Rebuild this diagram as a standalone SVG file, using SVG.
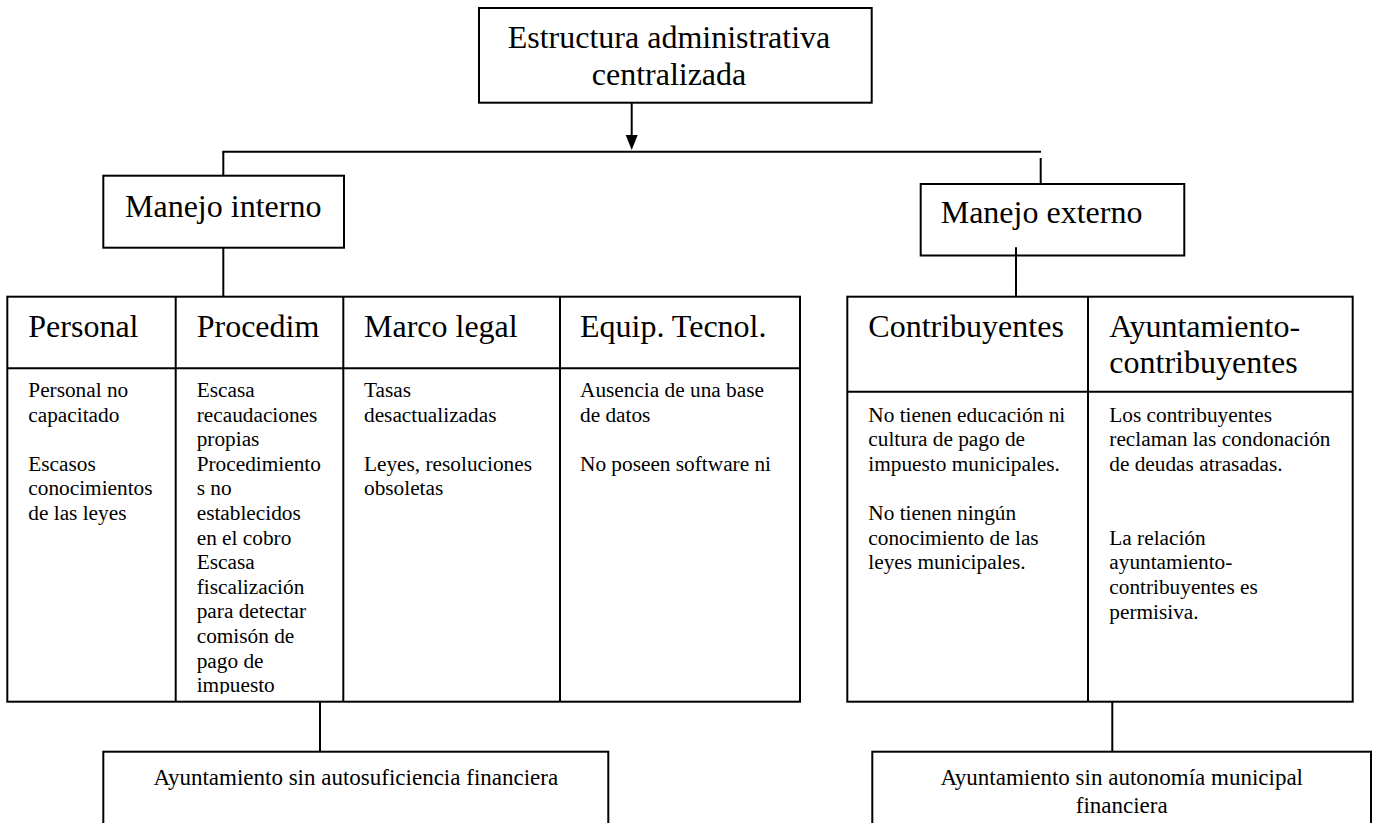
<svg xmlns="http://www.w3.org/2000/svg" width="1376" height="823" viewBox="0 0 1376 823">
<style>
  .box { fill: #fff; stroke: #000; stroke-width: 2; }
  .ln { fill: none; stroke: #000; stroke-width: 2; }
  text { font-family: "Liberation Serif", "Times New Roman", serif; fill: #000; }
  .h { font-size: 32px; }
  .b { font-size: 21.3px; }
  .f { font-size: 23px; }
</style>
<defs>
  <marker id="arr" viewBox="0 0 12 15" refX="6" refY="15" markerWidth="12" markerHeight="15" markerUnits="userSpaceOnUse" orient="0">
    <path d="M0,0 L12,0 L6,15 z" fill="#000"/>
  </marker>
  <clipPath id="clipProc"><rect x="176" y="369" width="167" height="325"/></clipPath>
</defs>
<rect width="1376" height="823" fill="#fff"/>

<g id="connectors">
  <line class="ln" x1="631.7" y1="102.7" x2="631.7" y2="135"/>
  <path d="M625.7,135 L637.7,135 L631.7,150 z" fill="#000"/>
  <line class="ln" x1="222.3" y1="151.7" x2="1041" y2="151.7"/>
  <line class="ln" x1="223.3" y1="151.7" x2="223.3" y2="175.7"/>
  <line class="ln" x1="1040.7" y1="158" x2="1040.7" y2="184"/>
  <line class="ln" x1="223.3" y1="247.7" x2="223.3" y2="296.7"/>
  <line class="ln" x1="1016" y1="247.3" x2="1016" y2="296.7"/>
  <line class="ln" x1="320" y1="701.7" x2="320" y2="751.7"/>
  <line class="ln" x1="1112.3" y1="701.7" x2="1112.3" y2="751.7"/>
</g>

<g id="estructura">
  <rect class="box" x="479" y="8" width="392.7" height="94.7"/>
  <text class="h" x="669" y="48" text-anchor="middle">Estructura administrativa</text>
  <text class="h" x="669" y="85" text-anchor="middle">centralizada</text>
</g>

<g id="manejo-interno">
  <rect class="box" x="103.3" y="175.7" width="240.7" height="72"/>
  <text class="h" x="125" y="216.7">Manejo interno</text>
</g>

<g id="manejo-externo">
  <rect class="box" x="920.7" y="184" width="263.6" height="71.5"/>
  <text class="h" x="940.7" y="223">Manejo externo</text>
  <line class="ln" x1="1016" y1="247.3" x2="1016" y2="255.5"/>
</g>

<g id="tabla-interna">
  <rect class="box" x="7.3" y="296.7" width="792.7" height="405"/>
  <line class="ln" x1="7.3" y1="368.3" x2="800" y2="368.3"/>
  <line class="ln" x1="175.7" y1="296.7" x2="175.7" y2="701.7"/>
  <line class="ln" x1="343.3" y1="296.7" x2="343.3" y2="701.7"/>
  <line class="ln" x1="560" y1="296.7" x2="560" y2="701.7"/>
  <g id="personal">
    <text class="h" x="28.3" y="336.5">Personal</text>
    <text class="b" x="28.3" y="397">Personal no</text>
    <text class="b" x="28.3" y="421.6">capacitado</text>
    <text class="b" x="28.3" y="470.8">Escasos</text>
    <text class="b" x="28.3" y="495.4">conocimientos</text>
    <text class="b" x="28.3" y="520">de las leyes</text>
  </g>
  <g id="procedim">
    <text class="h" x="196.7" y="336.5">Procedim</text>
    <g clip-path="url(#clipProc)">
      <text class="b" x="196.7" y="397">Escasa</text>
      <text class="b" x="196.7" y="421.6">recaudaciones</text>
      <text class="b" x="196.7" y="446.2">propias</text>
      <text class="b" x="196.7" y="470.8">Procedimiento</text>
      <text class="b" x="196.7" y="495.4">s no</text>
      <text class="b" x="196.7" y="520">establecidos</text>
      <text class="b" x="196.7" y="544.6">en el cobro</text>
      <text class="b" x="196.7" y="569.2">Escasa</text>
      <text class="b" x="196.7" y="593.8">fiscalización</text>
      <text class="b" x="196.7" y="618.4">para detectar</text>
      <text class="b" x="196.7" y="643">comisón de</text>
      <text class="b" x="196.7" y="667.6">pago de</text>
      <text class="b" x="196.7" y="692.2">impuesto</text>
    </g>
  </g>
  <g id="marco-legal">
    <text class="h" x="364" y="336.5">Marco legal</text>
    <text class="b" x="364" y="397">Tasas</text>
    <text class="b" x="364" y="421.6">desactualizadas</text>
    <text class="b" x="364" y="470.8">Leyes, resoluciones</text>
    <text class="b" x="364" y="495.4">obsoletas</text>
  </g>
  <g id="equip-tecnol">
    <text class="h" x="580" y="336.5">Equip. Tecnol.</text>
    <text class="b" x="580" y="397">Ausencia de una base</text>
    <text class="b" x="580" y="421.6">de datos</text>
    <text class="b" x="580" y="470.8">No poseen software ni</text>
  </g>
</g>

<g id="tabla-externa">
  <rect class="box" x="847.3" y="296.7" width="505.4" height="405"/>
  <line class="ln" x1="847.3" y1="391.7" x2="1352.7" y2="391.7"/>
  <line class="ln" x1="1088" y1="296.7" x2="1088" y2="701.7"/>
  <g id="contribuyentes">
    <text class="h" x="868.3" y="336.5">Contribuyentes</text>
    <text class="b" x="868.3" y="421.7">No tienen educación ni</text>
    <text class="b" x="868.3" y="446.3">cultura de pago de</text>
    <text class="b" x="868.3" y="470.9">impuesto municipales.</text>
    <text class="b" x="868.3" y="520.1">No tienen ningún</text>
    <text class="b" x="868.3" y="544.7">conocimiento de las</text>
    <text class="b" x="868.3" y="569.3">leyes municipales.</text>
  </g>
  <g id="ayuntamiento-contribuyentes">
    <text class="h" x="1109.3" y="336.5">Ayuntamiento-</text>
    <text class="h" x="1109.3" y="373">contribuyentes</text>
    <text class="b" x="1109.3" y="421.7">Los contribuyentes</text>
    <text class="b" x="1109.3" y="446.3">reclaman las condonación</text>
    <text class="b" x="1109.3" y="470.9">de deudas atrasadas.</text>
    <text class="b" x="1109.3" y="544.7">La relación</text>
    <text class="b" x="1109.3" y="569.3">ayuntamiento-</text>
    <text class="b" x="1109.3" y="593.9">contribuyentes es</text>
    <text class="b" x="1109.3" y="618.5">permisiva.</text>
  </g>
</g>

<g id="sin-autosuficiencia">
  <rect class="box" x="103.3" y="751.7" width="505" height="90"/>
  <text class="f" x="355.8" y="785" text-anchor="middle">Ayuntamiento sin autosuficiencia financiera</text>
</g>

<g id="sin-autonomia">
  <rect class="box" x="872.3" y="751.7" width="498.7" height="90"/>
  <text class="f" x="1121.7" y="785" text-anchor="middle">Ayuntamiento sin autonomía municipal</text>
  <text class="f" x="1121.7" y="813" text-anchor="middle">financiera</text>
</g>
</svg>
